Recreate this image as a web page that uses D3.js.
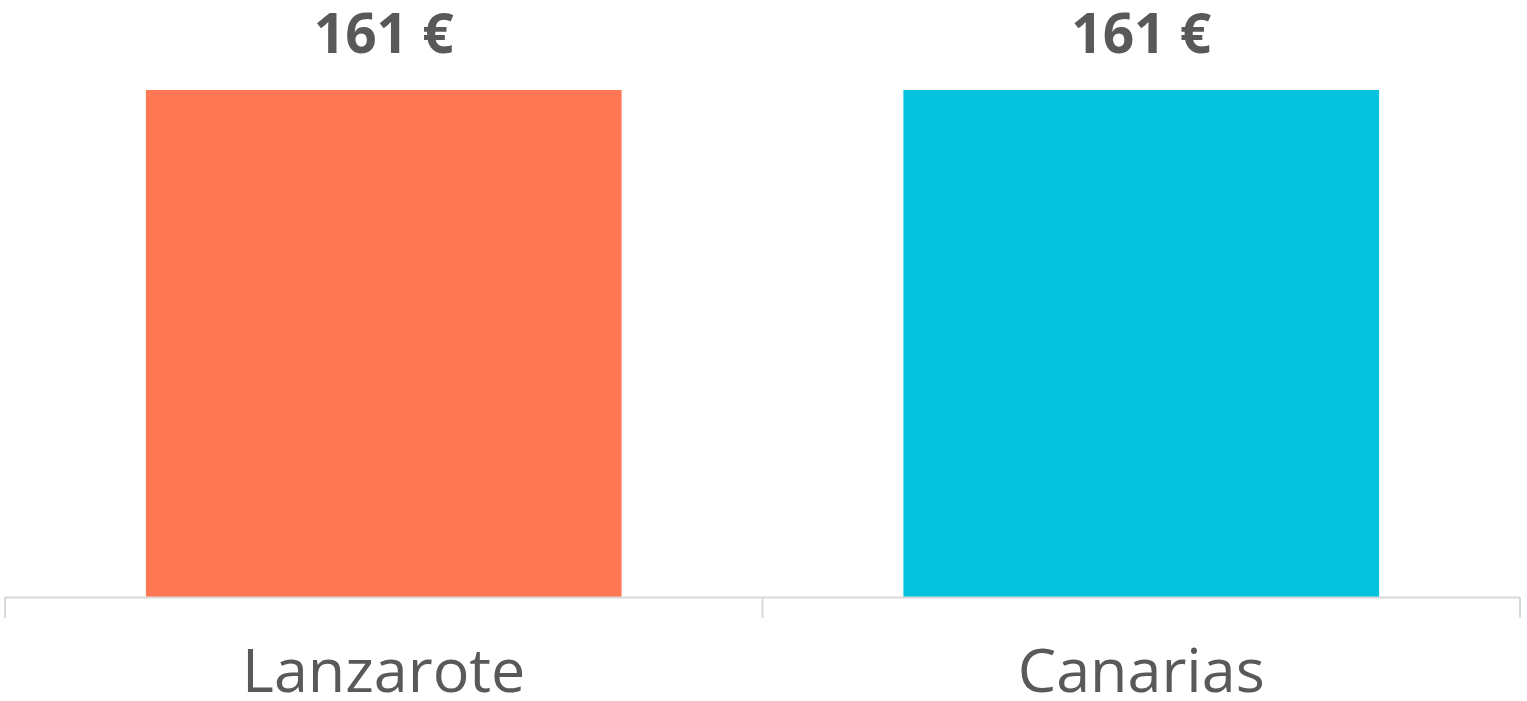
<!DOCTYPE html>
<html><head><meta charset="utf-8">
<script src="https://cdn.jsdelivr.net/npm/d3@7/dist/d3.min.js"></script>
<style>html,body{margin:0;padding:0;background:#fff;overflow:hidden}</style>
</head><body>
<svg id="c" width="1527" height="701"></svg>
<script>
const categories = ["Lanzarote", "Canarias"];
const values = [161, 161];
const valueLabels = ["161 €", "161 €"];
const colors = ["#FF7853", "#05C3DE"];

const svg = d3.select("#c");
const x = d3.scaleBand().domain(categories).range([5, 1520]).paddingInner(0.372).paddingOuter(0.186);
const y = d3.scaleLinear().domain([0, 161]).range([597, 90]);

svg.selectAll("rect.bar").data(categories).enter().append("rect")
  .attr("class","bar")
  .attr("x", d => x(d)).attr("width", x.bandwidth())
  .attr("y", (d,i) => y(values[i])).attr("height", (d,i) => y(0) - y(values[i]))
  .attr("fill", (d,i) => colors[i]);

// axis
const g = svg.append("g");
g.append("line").attr("x1",5).attr("x2",1520).attr("y1",597.5).attr("y2",597.5)
  .attr("stroke","#d9d9d9").attr("stroke-width",2);
const tickXs = [5, ...categories.map(d => x(d) + x.bandwidth()/2 + x.step()/2)];
g.selectAll("line.tick").data(tickXs).enter().append("line").attr("class","tick")
  .attr("x1", d=>d).attr("x2", d=>d).attr("y1",597).attr("y2",618)
  .attr("stroke","#d9d9d9").attr("stroke-width",2);

svg.selectAll("text.cat").data(categories).enter().append("text")
  .attr("class","cat")
  .attr("x", d => x(d) + x.bandwidth()/2).attr("y", 692)
  .attr("text-anchor","middle")
  .attr("font-family","'Open Sans', sans-serif").attr("font-size",61)
  .attr("fill","#595959").text(d => d);

svg.selectAll("text.val").data(categories).enter().append("text")
  .attr("class","val")
  .attr("x", d => x(d) + x.bandwidth()/2).attr("y", (d,i) => y(values[i]) - 37)
  .attr("text-anchor","middle")
  .attr("font-family","'Open Sans', sans-serif").attr("font-weight","bold").attr("font-size",55)
  .attr("fill","#595959").text((d,i) => valueLabels[i]);
</script>
</body></html>
